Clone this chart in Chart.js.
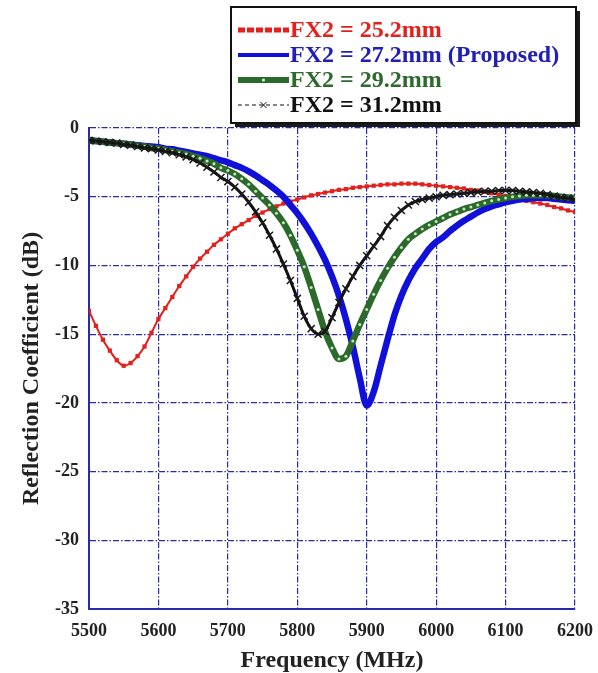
<!DOCTYPE html>
<html>
<head>
<meta charset="utf-8">
<script src="https://cdn.jsdelivr.net/npm/chart.js@4/dist/chart.umd.min.js"></script>
<style>
  html, body { margin: 0; padding: 0; background: #fff; }
  #wrap { position: relative; width: 598px; height: 673px; }
</style>
</head>
<body>
<div id="wrap"><canvas id="chart-s11"></canvas></div>
<script>
(function () {
  'use strict';

  // frequency samples (MHz)
  var freqs = [5500, 5510, 5520, 5530, 5540, 5550, 5560, 5570, 5580, 5590,
    5600, 5610, 5620, 5630, 5640, 5650, 5660, 5670, 5680, 5690,
    5700, 5710, 5720, 5730, 5740, 5750, 5760, 5770, 5780, 5790,
    5800, 5810, 5820, 5830, 5840, 5850, 5860, 5870, 5880, 5890,
    5900, 5910, 5920, 5930, 5940, 5950, 5960, 5970, 5980, 5990,
    6000, 6010, 6020, 6030, 6040, 6050, 6060, 6070, 6080, 6090,
    6100, 6110, 6120, 6130, 6140, 6150, 6160, 6170, 6180, 6190, 6200];

  // reflection coefficient (dB)
  var fx252 = [-13.3, -14.4, -15.4, -16.2, -16.9, -17.3, -17.1, -16.6, -15.9, -14.9,
    -13.9, -13.1, -12.3, -11.5, -10.8, -10.1, -9.5, -9.0, -8.5, -8.1,
    -7.7, -7.3, -7.0, -6.7, -6.4, -6.15, -5.9, -5.7, -5.5, -5.35,
    -5.2, -5.05, -4.9, -4.8, -4.7, -4.6, -4.5, -4.45, -4.35, -4.3,
    -4.25, -4.2, -4.15, -4.1, -4.1, -4.05, -4.05, -4.05, -4.1, -4.15,
    -4.2, -4.25, -4.3, -4.35, -4.4, -4.5, -4.55, -4.65, -4.75, -4.85,
    -4.95, -5.05, -5.15, -5.3, -5.4, -5.5, -5.6, -5.75, -5.85, -6.0, -6.1];

  var fx272 = [-0.9, -0.95, -1.0, -1.05, -1.1, -1.15, -1.2, -1.25, -1.3, -1.35,
    -1.4, -1.5, -1.55, -1.65, -1.75, -1.85, -1.95, -2.05, -2.2, -2.35,
    -2.5, -2.7, -2.9, -3.15, -3.45, -3.8, -4.15, -4.55, -5.0, -5.6,
    -6.2, -6.9, -7.7, -8.6, -9.6, -10.8, -12.2, -13.9, -15.9, -18.2,
    -20.2, -19.2, -17.3, -15.4, -13.6, -12.2, -11.1, -10.2, -9.5, -8.8,
    -8.3, -7.95, -7.5, -7.1, -6.75, -6.45, -6.15, -5.9, -5.7, -5.55,
    -5.4, -5.3, -5.2, -5.15, -5.1, -5.1, -5.1, -5.15, -5.2, -5.25, -5.3];

  var fx292 = [-0.9, -0.95, -1.0, -1.05, -1.1, -1.15, -1.2, -1.3, -1.35, -1.45,
    -1.5, -1.6, -1.7, -1.8, -1.9, -2.05, -2.2, -2.4, -2.6, -2.9,
    -3.1, -3.35, -3.7, -4.1, -4.6, -5.1, -5.6, -6.2, -6.9, -7.8,
    -8.9, -10.1, -11.6, -13.2, -14.8, -16.0, -16.8, -16.6, -15.5, -14.3,
    -13.2, -12.1, -11.1, -10.2, -9.4, -8.7, -8.1, -7.7, -7.35, -7.05,
    -6.8, -6.55, -6.3, -6.1, -5.9, -5.75, -5.6, -5.45, -5.3, -5.2,
    -5.1, -5.0, -4.95, -4.9, -4.9, -4.9, -4.9, -4.95, -5.0, -5.05, -5.1];

  var fx312 = [-0.9, -0.95, -1.0, -1.05, -1.1, -1.2, -1.25, -1.35, -1.45, -1.5,
    -1.6, -1.7, -1.8, -1.95, -2.1, -2.3, -2.55, -2.85, -3.2, -3.6,
    -3.9, -4.3, -4.8, -5.4, -6.1, -6.9, -7.8, -8.8, -9.9, -11.1,
    -12.4, -13.7, -14.6, -15.0, -14.8, -13.8, -12.7, -11.7, -10.8, -10.0,
    -9.3, -8.6, -7.9, -7.1, -6.5, -6.0, -5.6, -5.35, -5.2, -5.1,
    -5.0, -4.9, -4.85, -4.8, -4.75, -4.7, -4.65, -4.6, -4.6, -4.55,
    -4.55, -4.55, -4.6, -4.65, -4.7, -4.75, -4.85, -4.95, -5.05, -5.1, -5.2];

  var seriesLabels = ['FX2 = 25.2mm', 'FX2 = 27.2mm (Proposed)', 'FX2 = 29.2mm', 'FX2 = 31.2mm'];

  var FONT = '"Liberation Serif", "Times New Roman", serif';
  var GRID = '#2a2aa8';
  var RED = '#e4201c';
  var BLUE = '#1010d8';
  var GREEN = '#2c6a2c';
  var BLACK = '#111111';

  function pts(ys) {
    return ys.map(function (y, i) { return { x: freqs[i], y: y }; });
  }

  // legend box drawn above the plot area, like the original figure
  var boxLegend = {
    id: 'boxLegend',
    afterDraw: function (chart) {
      var ctx = chart.ctx;
      var x0 = 231, y0 = 7, w = 345, h = 116;
      ctx.save();
      ctx.fillStyle = '#1a1a1a';
      ctx.fillRect(x0 + 4, y0 + 4, w, h);
      ctx.fillStyle = '#fff';
      ctx.fillRect(x0, y0, w, h);
      ctx.lineWidth = 2;
      ctx.strokeStyle = '#111';
      ctx.strokeRect(x0, y0, w, h);

      var rows = [30, 55, 80, 105];
      var sx0 = 238, sx1 = 289;
      var colors = [RED, '#2020b8', '#2e6a2e', BLACK];
      ctx.font = 'bold 24px ' + FONT;
      ctx.textBaseline = 'middle';
      rows.forEach(function (ry, i) {
        ctx.save();
        if (i === 0) {
          ctx.strokeStyle = RED; ctx.lineWidth = 5; ctx.setLineDash([7, 2]);
          ctx.beginPath(); ctx.moveTo(sx0, ry); ctx.lineTo(sx1, ry); ctx.stroke();
        } else if (i === 1) {
          ctx.strokeStyle = BLUE; ctx.lineWidth = 4;
          ctx.beginPath(); ctx.moveTo(sx0, ry); ctx.lineTo(sx1, ry); ctx.stroke();
        } else if (i === 2) {
          ctx.strokeStyle = GREEN; ctx.lineWidth = 6;
          ctx.beginPath(); ctx.moveTo(sx0, ry); ctx.lineTo(sx1, ry); ctx.stroke();
          ctx.fillStyle = '#d8f0d0';
          ctx.beginPath(); ctx.arc((sx0 + sx1) / 2, ry, 1.6, 0, Math.PI * 2); ctx.fill();
        } else {
          ctx.strokeStyle = BLACK; ctx.lineWidth = 1; ctx.setLineDash([4, 3]);
          ctx.beginPath(); ctx.moveTo(sx0, ry); ctx.lineTo(sx1, ry); ctx.stroke();
          ctx.setLineDash([]);
          var cx = (sx0 + sx1) / 2;
          ctx.beginPath();
          ctx.moveTo(cx - 3, ry - 3); ctx.lineTo(cx + 3, ry + 3);
          ctx.moveTo(cx + 3, ry - 3); ctx.lineTo(cx - 3, ry + 3);
          ctx.stroke();
        }
        ctx.restore();
        ctx.fillStyle = colors[i];
        ctx.fillText(seriesLabels[i], sx1 + 1, ry + 1);
      });
      ctx.restore();
    }
  };

  var tickFont = { family: FONT, size: 18, weight: 'bold' };
  var titleFont = { family: FONT, size: 24, weight: 'bold', lineHeight: 1 };

  new Chart(document.getElementById('chart-s11'), {
    type: 'line',
    data: {
      datasets: [
        {
          label: seriesLabels[0],
          data: pts(fx252),
          borderColor: RED,
          backgroundColor: RED,
          borderWidth: 2,
          pointStyle: 'rect',
          pointRadius: 3,
          pointBorderWidth: 0,
          order: 4
        },
        {
          label: seriesLabels[1],
          data: pts(fx272),
          borderColor: BLUE,
          backgroundColor: BLUE,
          borderWidth: 6.5,
          pointRadius: 0,
          order: 3
        },
        {
          label: seriesLabels[2],
          data: pts(fx292),
          borderColor: GREEN,
          backgroundColor: '#c6e6bc',
          borderWidth: 6.5,
          pointRadius: 1.5,
          pointBorderWidth: 0,
          order: 2
        },
        {
          label: seriesLabels[3],
          data: pts(fx312),
          borderColor: BLACK,
          backgroundColor: BLACK,
          borderWidth: 3,
          pointStyle: 'crossRot',
          pointRadius: 5,
          pointBorderWidth: 1.5,
          pointBorderColor: '#1a1a1a',
          order: 1
        }
      ]
    },
    options: {
      responsive: true,
      maintainAspectRatio: false,
      animation: false,
      cubicInterpolationMode: 'monotone',
      layout: { padding: { left: 20, right: 23, top: 128, bottom: 0 } },
      plugins: {
        legend: { display: false },
        tooltip: { enabled: false }
      },
      scales: {
        x: {
          type: 'linear',
          min: 5500,
          max: 6200,
          ticks: {
            stepSize: 100,
            color: '#222',
            font: tickFont,
            padding: 12,
            maxRotation: 0,
            callback: function (v) { return String(v); }
          },
          grid: { color: GRID, lineWidth: 1.2, drawTicks: false },
          border: { display: true, color: GRID, width: 2, dash: [6, 2, 1.5, 2] },
          title: { display: true, text: 'Frequency (MHz)', color: '#222', font: titleFont, padding: 0 },
          afterFit: function (s) {
            s.height = 64;
            s.paddingLeft = 0;
            s.paddingRight = 0;
          }
        },
        y: {
          min: -35,
          max: 0,
          ticks: { stepSize: 5, color: '#222', font: tickFont, padding: 10 },
          grid: { color: GRID, lineWidth: 1.2, drawTicks: false },
          border: { display: true, color: GRID, width: 2, dash: [6, 2, 1.5, 2] },
          title: { display: true, text: 'Reflection Coefficient (dB)', color: '#222', font: titleFont, padding: 0 },
          afterFit: function (s) {
            s.width = 69;
            s.paddingTop = 0;
            s.paddingBottom = 0;
          }
        }
      }
    },
    plugins: [boxLegend]
  });
})();
</script>
</body>
</html>
